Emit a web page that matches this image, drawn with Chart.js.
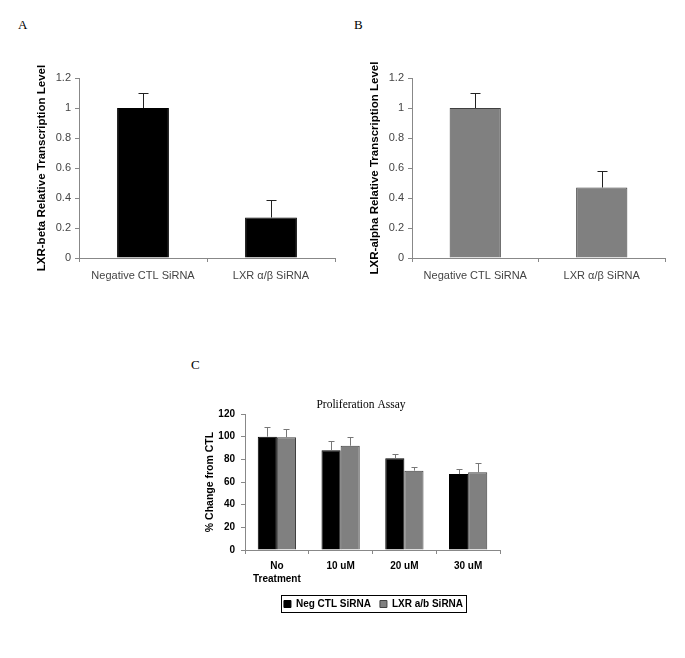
<!DOCTYPE html>
<html>
<head>
<meta charset="utf-8">
<script src="https://cdn.jsdelivr.net/npm/chart.js@4/dist/chart.umd.min.js"></script>
<style>
  html, body { margin: 0; padding: 0; background: #fff; }
  body { width: 685px; height: 658px; position: relative; overflow: hidden; }
  canvas { position: absolute; }
  .panel { position: absolute; font-family: "Liberation Serif", "Times New Roman", serif; font-size: 13px; color: #000; }
</style>
</head>
<body>
<div class="panel" style="left:18px; top:17px;">A</div>
<div class="panel" style="left:354px; top:17px;">B</div>
<div class="panel" style="left:191px; top:357px;">C</div>
<canvas id="chartA" width="340" height="300" style="left:0px; top:0px;"></canvas>
<canvas id="chartB" width="345" height="300" style="left:340px; top:0px;"></canvas>
<canvas id="chartC" width="387" height="280" style="left:180px; top:350px;"></canvas>
<script>
// ---------- data ----------
const sirnaLabels = ['Negative CTL SiRNA', 'LXR \u03b1/\u03b2 SiRNA'];
const lxrBetaValues = [1.0, 0.27];
const lxrBetaErrors = [0.10, 0.12];
const lxrAlphaValues = [1.0, 0.47];
const lxrAlphaErrors = [0.10, 0.11];

const doseLabels = [['No', 'Treatment'], '10 uM', '20 uM', '30 uM'];
const negCtlValues = [100, 88, 81, 67];
const negCtlErrors = [8.5, 8.4, 3.5, 4.5];
const lxrSiValues = [99.5, 92, 70, 68.5];
const lxrSiErrors = [7.5, 8, 3.2, 8.7];

const titleA = 'LXR-beta Relative Transcription Level';
const titleB = 'LXR-alpha Relative Transcription Level';
const titleC = '% Change from CTL';
const chartTitleC = 'Proliferation Assay';
const seriesNames = ['Neg CTL SiRNA', 'LXR a/b SiRNA'];

// ---------- plugins ----------
const errorBarPlugin = {
  id: 'errorBars',
  afterDatasetsDraw(chart, args, opts) {
    const ctx = chart.ctx;
    chart.data.datasets.forEach((ds, i) => {
      if (!ds.errors) return;
      const meta = chart.getDatasetMeta(i);
      const yScale = chart.scales[meta.yAxisID];
      ctx.save();
      ctx.strokeStyle = ds.errorColor || '#000';
      ctx.lineWidth = 1;
      const w = opts.capWidth || 8;
      meta.data.forEach((bar, j) => {
        const yTop = Math.round(yScale.getPixelForValue(ds.data[j] + ds.errors[j])) + 0.5;
        const x = Math.round(bar.x) + 0.5;
        ctx.beginPath();
        ctx.moveTo(x, bar.y);
        ctx.lineTo(x, yTop);
        ctx.moveTo(x - w / 2, yTop);
        ctx.lineTo(x + w / 2, yTop);
        ctx.stroke();
      });
      ctx.restore();
    });
  }
};

const legendBoxPlugin = {
  id: 'legendBox',
  afterDraw(chart) {
    const lg = chart.legend;
    if (!lg || !lg.options.display || !lg.legendHitBoxes || !lg.legendHitBoxes.length) return;
    const hb = lg.legendHitBoxes;
    let l = Infinity, r = -Infinity, t = Infinity, b = -Infinity;
    hb.forEach(h => { l = Math.min(l, h.left); r = Math.max(r, h.left + h.width); t = Math.min(t, h.top); b = Math.max(b, h.top + h.height); });
    const ctx = chart.ctx;
    ctx.save();
    ctx.strokeStyle = '#000';
    ctx.lineWidth = 1;
    ctx.strokeRect(Math.round(l - 3) + 0.5, Math.round(t - 4) + 0.5, Math.round(r - l + 6), Math.round(b - t + 7));
    ctx.restore();
  }
};

const floatingTitlePlugin = {
  id: 'floatingTitle',
  afterDraw(chart, args, opts) {
    if (!opts.text) return;
    const ctx = chart.ctx;
    ctx.save();
    ctx.font = opts.font || '11.5px "Liberation Serif", serif';
    ctx.fillStyle = '#000';
    ctx.textAlign = 'center';
    ctx.textBaseline = 'middle';
    ctx.fillText(opts.text, chart.chartArea.left + opts.dx, chart.chartArea.top + opts.dy);
    ctx.restore();
  }
};

Chart.register(errorBarPlugin, legendBoxPlugin, floatingTitlePlugin);

const sans = '"Liberation Sans", Arial, sans-serif';
const axisGray = '#888';

function topChart(id, labels, values, errors, color, border, yTitle, yWidth, titlePad, rightPad) {
  return new Chart(document.getElementById(id), {
    type: 'bar',
    data: {
      labels: labels,
      datasets: [{
        data: values,
        errors: errors,
        errorColor: '#222',
        backgroundColor: color,
        borderColor: border,
        borderWidth: 1,
        categoryPercentage: 1.0,
        barPercentage: 0.405
      }]
    },
    options: {
      responsive: false,
      animation: false,
      layout: { padding: { top: 78, right: rightPad, left: 0, bottom: 0 } },
      plugins: {
        legend: { display: false },
        tooltip: { enabled: false },
        errorBars: { capWidth: 10 }
      },
      scales: {
        x: {
          grid: { display: true, drawOnChartArea: false, drawTicks: true, tickLength: 4, offset: true, color: axisGray },
          border: { display: true, color: axisGray },
          ticks: { color: '#444', font: { family: sans, size: 11 }, padding: 7, maxRotation: 0 },
          afterFit(s) { s.height = 42; }
        },
        y: {
          min: 0, max: 1.2,
          grid: { display: true, drawOnChartArea: false, drawTicks: true, tickLength: 4, color: axisGray },
          border: { display: true, color: axisGray },
          ticks: { stepSize: 0.2, color: '#444', font: { family: sans, size: 11 }, padding: 4,
                   callback: v => String(+(+v).toFixed(1)) },
          title: { display: true, text: yTitle, color: '#000', font: { family: sans, size: 11.5, weight: 'bold' }, padding: { top: titlePad, bottom: 0 } },
          afterFit(s) { s.width = yWidth; }
        }
      }
    }
  });
}

topChart('chartA', sirnaLabels, lxrBetaValues, lxrBetaErrors, '#000', '#000', titleA, 79, 35, 5);
topChart('chartB', sirnaLabels, lxrAlphaValues, lxrAlphaErrors, '#808080', '#404040', titleB, 72, 28, 20);

new Chart(document.getElementById('chartC'), {
  type: 'bar',
  data: {
    labels: doseLabels,
    datasets: [
      { label: seriesNames[0], data: negCtlValues, errors: negCtlErrors, errorColor: '#777',
        backgroundColor: '#000', borderColor: '#000', borderWidth: 1, categoryPercentage: 0.6, barPercentage: 1.0 },
      { label: seriesNames[1], data: lxrSiValues, errors: lxrSiErrors, errorColor: '#777',
        backgroundColor: '#808080', borderColor: '#404040', borderWidth: 1, categoryPercentage: 0.6, barPercentage: 1.0 }
    ]
  },
  options: {
    responsive: false,
    animation: false,
    layout: { padding: { top: 64, right: 0, left: 0, bottom: 11 } },
    plugins: {
      tooltip: { enabled: false },
      errorBars: { capWidth: 6 },
      floatingTitle: { text: chartTitleC, dx: 116, dy: -9, font: '11.5px "Liberation Serif", serif' },
      legend: {
        display: true,
        position: 'bottom',
        labels: { boxWidth: 7, boxHeight: 7, padding: 9, color: '#000', font: { family: sans, size: 10, weight: 'bold' } }
      }
    },
    scales: {
      x: {
        grid: { display: true, drawOnChartArea: false, drawTicks: true, tickLength: 4, offset: true, color: axisGray },
        border: { display: true, color: axisGray },
        ticks: { color: '#000', font: { family: sans, size: 10, weight: 'bold', lineHeight: 1.3 }, padding: 6, maxRotation: 0 },
        afterFit(s) { s.height = 40; }
      },
      y: {
        min: 0, max: 120,
        grid: { display: true, drawOnChartArea: false, drawTicks: true, tickLength: 4, color: axisGray },
        border: { display: true, color: axisGray },
        ticks: { stepSize: 20, color: '#000', font: { family: sans, size: 10, weight: 'bold' }, padding: 6 },
        title: { display: true, text: titleC, color: '#000', font: { family: sans, size: 10.5, weight: 'bold' }, padding: { top: 24, bottom: 0 } },
        afterFit(s) { s.width = 65; }
      },
      spacer: {
        type: 'linear',
        position: 'right',
        display: true,
        grid: { display: false, drawTicks: false },
        border: { display: false },
        ticks: { display: false },
        afterFit(s) { s.width = 67; }
      }
    }
  }
});
</script>
</body>
</html>
